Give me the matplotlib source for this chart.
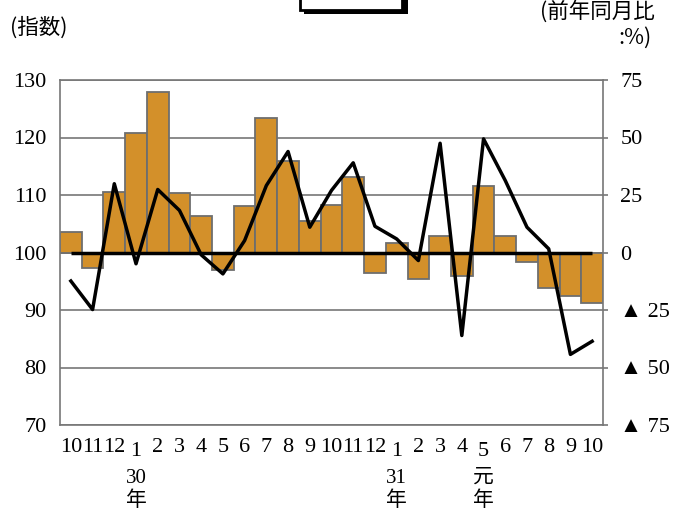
import numpy as np
import matplotlib.pyplot as plt
from matplotlib.patches import Rectangle

plt.rcParams['font.family'] = ['Liberation Serif', 'Noto Sans CJK JP', 'DejaVu Sans']

# months from H29.10 to R1.10
months = ["10", "11", "12", "1", "2", "3", "4", "5", "6", "7", "8", "9",
          "10", "11", "12", "1", "2", "3", "4", "5", "6", "7", "8", "9", "10"]
# index (bars, left axis)
index_values = [103.5, 97.3, 110.6, 120.7, 127.9, 110.4, 106.4, 97.0, 108.1,
                123.4, 116.0, 105.4, 108.3, 113.1, 96.4, 101.7, 95.4, 102.8,
                96.0, 111.5, 102.8, 98.3, 93.8, 92.5, 91.2]
# year-on-year change % (line, right axis)
yoy_values = [-12.4, -24.8, 29.9, -4.9, 27.4, 18.3, -1.0, -9.3, 5.2, 29.1,
              43.9, 11.0, 27.0, 39.0, 11.4, 5.9, -3.5, 47.5, -36.1, 49.4,
              31.3, 11.0, 1.6, -44.3, -38.6]
year_labels = {3: "30\n年", 15: "31\n年", 19: "元\n年"}
left_ticks = [70, 80, 90, 100, 110, 120, 130]
right_ticks = [-75, -50, -25, 0, 25, 50, 75]
right_labels = ["▲ 75", "▲ 50", "▲ 25", "0", "25", "50", "75"]

bar_color = "#D3902A"
grid_color = "#777777"

fig = plt.figure(figsize=(6.89, 5.13), dpi=100)
ax = fig.add_axes([60 / 689, 88 / 513, 543 / 689, 345 / 513])

x = np.arange(len(months))
vals = np.array(index_values)
ax.bar(x, vals - 100, bottom=100, width=1.0, color=bar_color,
       edgecolor="#6E6E6E", linewidth=1.3, zorder=2)
ax.set_xlim(-0.5, len(months) - 0.5)
ax.set_ylim(70, 130)
ax.set_yticks(left_ticks)
ax.set_yticklabels([str(t) for t in left_ticks], fontsize=16)
ax.yaxis.grid(True, color=grid_color, linewidth=1.2, zorder=0)
ax.set_axisbelow(True)
ax.tick_params(axis="y", length=0, pad=9.5)
ax.set_xticks([])
for s in ax.spines.values():
    s.set_color(grid_color)
    s.set_linewidth(1.2)

# month labels (the "1" and the 元年 "5" sit a little lower)
for i, m in enumerate(months):
    dy = -27 if (m == "1" or i == 19) else -22
    ax.annotate(m, xy=(x[i], 0), xycoords=("data", "axes fraction"),
                xytext=(0, dy), textcoords="offset pixels",
                ha="center", va="center", fontsize=16)
for i, lab in year_labels.items():
    ax.annotate(lab, xy=(x[i], 0), xycoords=("data", "axes fraction"),
                xytext=(0, -65), textcoords="offset pixels",
                ha="center", va="center", fontsize=15, linespacing=1.3)

ax2 = ax.twinx()
ax2.set_ylim(-75, 75)
ax2.set_yticks(right_ticks)
ax2.set_yticklabels(right_labels, fontsize=16)
ax2.tick_params(axis="y", length=3.5, width=1.2, color=grid_color, pad=9)
for s in ax2.spines.values():
    s.set_visible(False)
ax2.hlines(0, x[0], x[-1], color="black", linewidth=2.5, zorder=3)
ax2.plot(x, yoy_values, color="black", linewidth=2.5, zorder=4)

fig.text(10 / 689, 1 - 28 / 513, "(指数)", fontsize=15.5, ha="left", va="center",
         family=["Noto Sans CJK JP"])
fig.text(655 / 689, 1 - 12 / 513, "(前年同月比", fontsize=15.5, ha="right", va="center",
         family=["Noto Sans CJK JP"])
fig.text(652 / 689, 1 - 38 / 513, ":%)", fontsize=15.5, ha="right", va="center",
         family=["Noto Sans CJK JP"])

# title box, cut by the top edge
fig.patches.append(Rectangle((304 / 689, 1 - 14 / 513), 104 / 689, 30 / 513,
                             transform=fig.transFigure, facecolor="black",
                             edgecolor="none"))
fig.patches.append(Rectangle((300 / 689, 1 - 10 / 513), 102 / 689, 30 / 513,
                             transform=fig.transFigure, facecolor="white",
                             edgecolor="black", linewidth=2))

fig.savefig("out.png", dpi=100)
